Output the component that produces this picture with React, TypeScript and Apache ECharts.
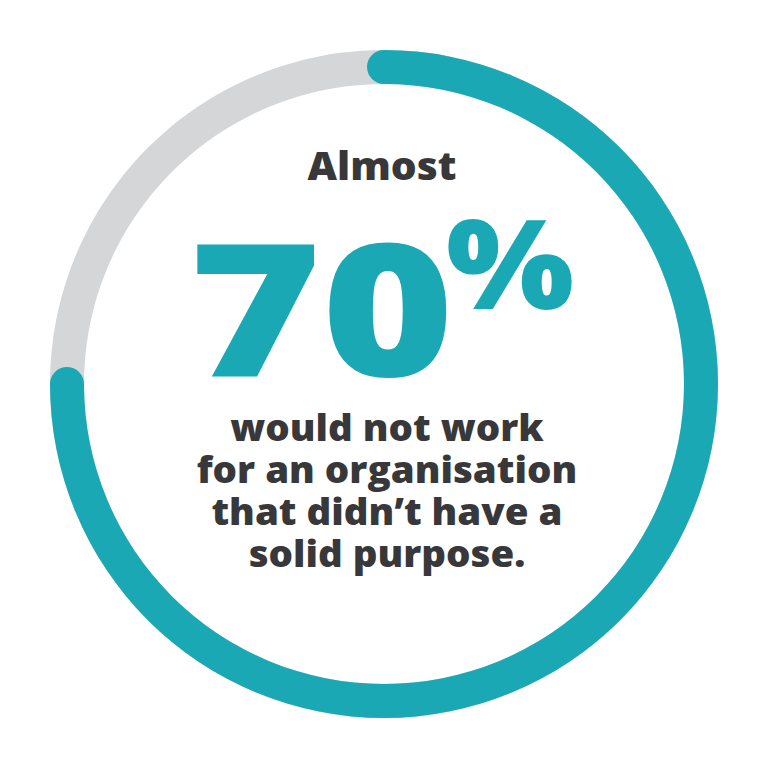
import { useEffect, useRef } from "react";
import * as echarts from "echarts";

// ring: share drawn in teal vs. the grey remainder
const ringCategories = ["Would not work", "Other"];
const ringValues = [75, 25];

// headline figure and caption
const leadWord = "Almost";
const figureNumber = "70";
const figureUnit = "%";
const captionLines = [
  "would not work",
  "for an organisation",
  "that didn’t have a",
  "solid purpose.",
];

const TEAL = "#1aa9b4";
const GREY = "#d5d6d8";
const DARK = "#38383a";
const FONT = "'Open Sans'";

const App = () => {
  const chartRef = useRef(null);

  useEffect(() => {
    const chart = echarts.init(chartRef.current, null, { renderer: "svg" });
    const total = ringValues.reduce((a, b) => a + b, 0);

    const option: any = {
      animation: false,
      backgroundColor: "#ffffff",
      series: [
        {
          type: "gauge",
          name: ringCategories[0],
          center: [384, 384],
          radius: 334,
          startAngle: 90,
          endAngle: -270,
          min: 0,
          max: total,
          pointer: { show: false },
          axisTick: { show: false },
          splitLine: { show: false },
          axisLabel: { show: false },
          title: { show: false },
          detail: { show: false },
          axisLine: {
            roundCap: false,
            lineStyle: { width: 34, color: [[1, GREY]] },
          },
          progress: {
            show: true,
            roundCap: true,
            width: 34,
            itemStyle: { color: TEAL },
          },
          data: [{ name: ringCategories[0], value: ringValues[0] }],
        },
      ],
      graphic: [
        {
          type: "text",
          x: 382,
          y: 166,
          scaleX: 1.07,
          style: {
            text: leadWord,
            fill: DARK,
            font: `800 38px ${FONT}`,
            lineHeight: 32,
            textAlign: "center",
            textVerticalAlign: "middle",
          },
        },
        {
          type: "text",
          x: 454,
          y: 305,
          scaleX: 1.23,
          style: {
            text: figureNumber,
            fill: TEAL,
            font: `800 184px ${FONT}`,
            lineHeight: 150,
            textAlign: "right",
            textVerticalAlign: "middle",
          },
        },
        {
          type: "text",
          x: 446,
          y: 261,
          scaleX: 1.09,
          style: {
            text: figureUnit,
            fill: TEAL,
            font: `800 124px ${FONT}`,
            lineHeight: 88,
            textAlign: "left",
            textVerticalAlign: "middle",
          },
        },
        {
          type: "text",
          x: 387,
          y: 490,
          scaleX: 1.04,
          style: {
            text: captionLines.join("\n"),
            fill: DARK,
            font: `800 37px ${FONT}`,
            lineHeight: 42,
            textAlign: "center",
            textVerticalAlign: "middle",
          },
        },
      ],
    };

    chart.setOption(option);

    return () => {
      chart.dispose();
    };
  }, []);

  return (
    <div
      ref={chartRef}
      style={{ position: "fixed", left: 0, top: 0, width: "768px", height: "768px" }}
    />
  );
};

export default App;
